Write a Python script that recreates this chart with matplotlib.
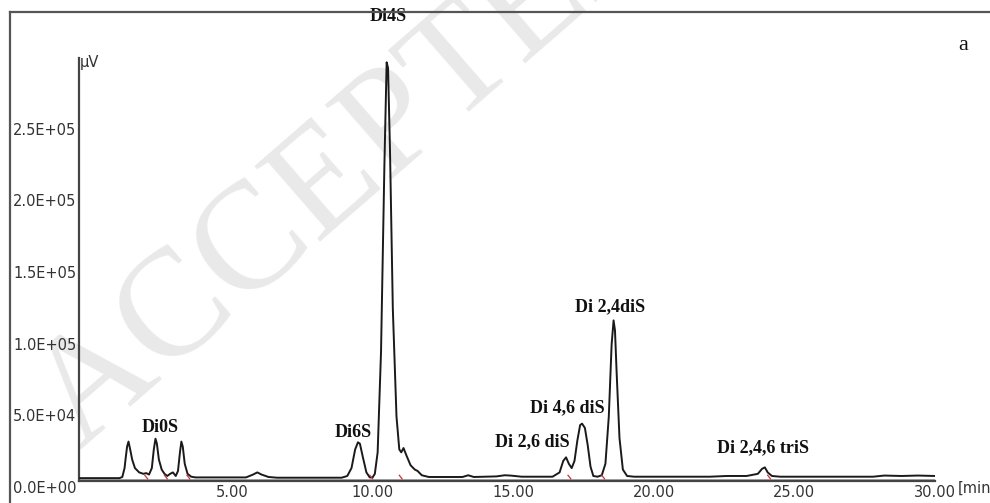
import matplotlib
matplotlib.use("Agg")
import matplotlib.pyplot as plt
from matplotlib.lines import Line2D
from matplotlib.ticker import FixedLocator, FixedFormatter

# ---- data ----
time_min = [-0.4, 1.0, 1.1, 1.18, 1.22, 1.27, 1.32, 1.38, 1.45, 1.55, 1.7, 1.85, 1.95, 2.05,
            2.15, 2.22, 2.28, 2.33, 2.4, 2.5, 2.6, 2.7, 2.8, 2.9, 3.0, 3.08, 3.15, 3.2, 3.25,
            3.32, 3.42, 3.55, 3.7, 5.5, 5.75, 5.9, 6.05, 6.3, 6.6, 8.9, 9.1, 9.25, 9.38, 9.48,
            9.55, 9.65, 9.78, 9.9, 10.0, 10.08, 10.18, 10.3, 10.42, 10.5, 10.55, 10.62, 10.72,
            10.85, 10.95, 11.02, 11.1, 11.2, 11.35, 11.5, 11.6, 11.75, 12.0, 13.2, 13.4, 13.6,
            14.4, 14.7, 14.9, 15.3, 16.4, 16.65, 16.78, 16.88, 16.98, 17.08, 17.18, 17.28,
            17.38, 17.45, 17.55, 17.65, 17.75, 17.85, 18.0, 18.15, 18.28, 18.4, 18.5, 18.57,
            18.62, 18.68, 18.78, 18.9, 19.05, 19.3, 22.0, 22.6, 23.3, 23.7, 23.85, 23.95,
            24.05, 24.2, 24.5, 27.8, 28.2, 28.8, 29.4, 30.0]
signal_uv = [2000, 2000, 2800, 9000, 16000, 24000, 27500, 22000, 15000, 9000, 6000, 5000,
             5500, 4500, 9000, 22000, 29500, 26000, 15000, 8000, 5000, 3500, 5000, 6000,
             3500, 7000, 20000, 27500, 24000, 12000, 5000, 3000, 2500, 2500, 4500, 6000,
             4500, 2800, 2300, 2300, 3500, 9000, 22000, 27000, 26000, 17000, 6000, 2500,
             2500, 5000, 20000, 90000, 220000, 292000, 288000, 230000, 120000, 45000, 22000,
             20000, 23000, 18000, 11000, 8000, 7000, 4000, 2800, 2800, 4000, 2800, 3200, 4000,
             3800, 3000, 3000, 6000, 14000, 16500, 12000, 9000, 14000, 28000, 39000, 40000,
             37000, 25000, 10000, 3500, 3000, 4000, 12000, 45000, 95000, 112000, 105000,
             75000, 30000, 8000, 3500, 3000, 3000, 3500, 3500, 5000, 8500, 9500, 6000, 3500,
             3000, 3000, 3800, 3500, 3800, 3500]

peak_names = ["Di0S", "Di6S", "Di4S", "Di 2,6 diS", "Di 4,6 diS", "Di 2,4diS", "Di 2,4,6 triS"]
peak_label_t = [2.44, 9.3, 10.55, 15.67, 16.93, 18.44, 23.87]
peak_label_v = [37600, 34100, 323800, 27200, 50800, 121200, 23000]

xtick_vals = [5, 10, 15, 20, 25, 30]
xtick_labels = ["5.00", "10.00", "15.00", "20.00", "25.00", "30.00"]
ytick_vals = [0, 50000, 100000, 150000, 200000, 250000]
ytick_labels = ["0.0E+00", "5.0E+04", "1.0E+05", "1.5E+05", "2.0E+05", "2.5E+05"]

integ_marks_t = [1.95, 2.65, 3.45, 9.95, 11.0, 17.0, 18.2, 24.1]

# ---- figure ----
W, H = 990, 503
fig = plt.figure(figsize=(W / 100, H / 100), dpi=100)
fig.patch.set_facecolor("white")

def fx(px):
    return px / W

def fy(py):
    return 1 - py / H

# watermark
fig.text(fx(80), fy(450), "ACCEPTED MANUSCRIPT", rotation=41, rotation_mode="anchor",
         ha="left", va="baseline", fontsize=110, family="Liberation Serif",
         color="#e9e9e9", zorder=-5)

# outer frame
fig.add_artist(Line2D([fx(10), fx(10)], [fy(12), fy(520)], color="#555555", lw=1.6))
fig.add_artist(Line2D([fx(10), fx(1000)], [fy(12), fy(12)], color="#555555", lw=1.6))

ax = fig.add_axes([fx(79), fy(481), fx(935) - fx(79), fy(58) - fy(481)])
ax.patch.set_alpha(0)
ax.set_xlim(-0.44, 30.0)
ax.set_ylim(0, 295000)

ax.plot([-0.44, 30.0], [900, 900], color="#a0a0a0", lw=1.3, zorder=2)
ax.plot(time_min, signal_uv, color="#1a1a1a", lw=1.4, zorder=3)

for t in integ_marks_t:
    ax.plot([t - 0.05, t + 0.05], [4000, 1500], color="#d03030", lw=0.9, zorder=4)

for name, t, v in zip(peak_names, peak_label_t, peak_label_v):
    ax.text(t, v, name, ha="center", va="center", fontsize=13, fontweight="bold",
            family="Liberation Serif", color="#111111", clip_on=False)

for s in ["top", "right"]:
    ax.spines[s].set_visible(False)
for s in ["left", "bottom"]:
    ax.spines[s].set_color("#444444")
    ax.spines[s].set_linewidth(1.6)

ax.xaxis.set_major_locator(FixedLocator(xtick_vals))
ax.xaxis.set_major_formatter(FixedFormatter(xtick_labels))
ax.yaxis.set_major_locator(FixedLocator(ytick_vals))
ax.yaxis.set_major_formatter(FixedFormatter(ytick_labels))
ax.tick_params(axis="both", length=0, labelsize=10.5, colors="#333333")
ax.tick_params(axis="x", pad=3)
ax.tick_params(axis="y", pad=2)
for lab in ax.get_xticklabels() + ax.get_yticklabels():
    lab.set_family("DejaVu Sans")
for lab in ax.get_yticklabels():
    lab.set_verticalalignment("top")

ax.text(30.8, 0, "[min]", ha="left", va="top", fontsize=10.5, family="DejaVu Sans",
        color="#333333", clip_on=False)
fig.text(fx(80), fy(62), "\u00b5V", ha="left", va="center", fontsize=10.5,
         family="DejaVu Sans", color="#333333")
fig.text(fx(963), fy(45), "a", ha="center", va="center", fontsize=16,
         family="Liberation Serif", color="#111111")

fig.savefig("out.png", dpi=100, facecolor="white")
